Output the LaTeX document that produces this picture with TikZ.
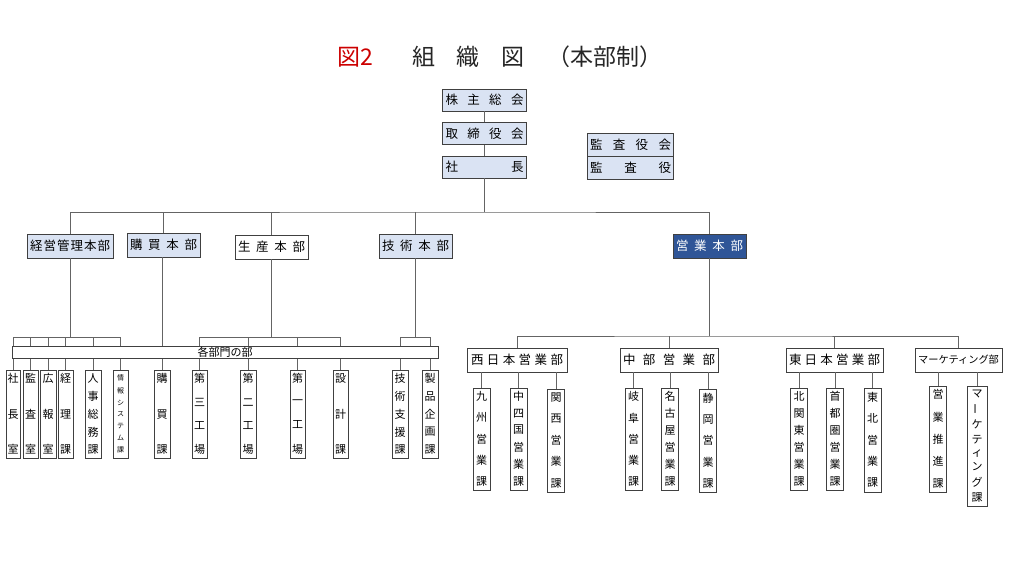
\documentclass[tikz,border=0pt]{standalone}
\usepackage{fontspec}
\usepackage{graphicx}
\setmainfont{Noto Sans CJK JP}
\usetikzlibrary{calc}
\definecolor{lblue}{RGB}{218,227,243}
\definecolor{dblue}{RGB}{47,85,151}
\definecolor{titlered}{RGB}{204,0,0}
\definecolor{boxline}{RGB}{64,64,64}
\definecolor{linegray}{RGB}{100,100,100}
\newcommand{\tate}[2]{\vbox to #1{\offinterlineskip\foreach \ch [count=\i] in {#2}{\ifnum\i>1 \vfill\fi\hbox to 1em{\hss\ch\hss}}}}
\newcommand{\yoko}[2]{\makebox[#1][s]{#2}}

\begin{document}
\begin{tikzpicture}[x=1pt,y=-1pt,
  box/.style={draw=boxline,line width=0.8pt,inner sep=0pt,font=\fontsize{12.5}{12.5}\selectfont},
  topbox/.style={box,fill=lblue,minimum width=84pt,minimum height=22pt},
  honbu/.style={box,fill=lblue,minimum height=24pt},
  tatebox/.style={box,line width=1pt,fill=white,minimum width=15pt,minimum height=88pt,font=\fontsize{11}{11}\selectfont},
  eigyobox/.style={box,fill=white,minimum height=24pt},
  link/.style={draw=linegray,line width=0.8pt}]
\useasboundingbox (0,0) rectangle (1024,576);
\def\tfont{\fontsize{23}{23}\selectfont}

\node[anchor=west,inner sep=0pt,font=\tfont,text=titlered] (zu) at (337,57) {図2};
\node[anchor=west,inner sep=0pt,font=\tfont,text=black!85] (soshiki) at (412,57) {\yoko{112pt}{組\hfill 織\hfill 図}};
\node[anchor=west,inner sep=0pt,font=\tfont,text=black!85] (honbusei) at (547,57) {（本部制）};

\node[topbox] (kabu) at (484.5,100) {\yoko{78pt}{株\hfill 主\hfill 総\hfill 会}};
\node[topbox] (tori) at (484.5,133.5) {\yoko{78pt}{取\hfill 締\hfill 役\hfill 会}};
\node[topbox] (shacho) at (484.5,167) {\yoko{78pt}{社\hfill 長}};
\node[topbox,minimum width=86pt,minimum height=23pt] (kansakai) at (630.5,144.5) {\yoko{81pt}{監\hfill 査\hfill 役\hfill 会}};
\node[topbox,minimum width=86pt,minimum height=23pt] (kansayaku) at (630.5,167.5) {\yoko{81pt}{監\hfill 査\hfill 役}};

\node[honbu,minimum width=86pt] (keiei) at (70,246) {\yoko{80pt}{経\hfill 営\hfill 管\hfill 理\hfill 本\hfill 部}};
\node[honbu,minimum width=73pt] (kobai) at (163.5,245) {\yoko{67pt}{購\hfill 買\hfill 本\hfill 部}};
\node[honbu,fill=white,minimum width=73pt] (seisan) at (271.5,247) {\yoko{67pt}{生\hfill 産\hfill 本\hfill 部}};
\node[honbu,minimum width=73pt] (gijutsu) at (415.5,246) {\yoko{67pt}{技\hfill 術\hfill 本\hfill 部}};
\node[honbu,fill=dblue,text=white,minimum width=73pt] (eigyo) at (709.5,246) {\yoko{67pt}{営\hfill 業\hfill 本\hfill 部}};

\coordinate (top) at (484.5,212);
\draw[link] (kabu) -- (tori);
\draw[link] (tori) -- (shacho);
\draw[link] (shacho) -- (top);
\draw[link] (keiei.north) |- (top) -| (eigyo.north);
\draw[link] (kobai.north) -- (kobai.north |- top);
\draw[link] (seisan.north) -- (seisan.north |- top);
\draw[link] (gijutsu.north) -- (gijutsu.north |- top);

\node[tatebox,minimum width=14pt] (shachoshitsu) at (13,414) {\tate{80pt}{社,長,室}};
\node[tatebox] (kansashitsu) at (30.5,414) {\tate{80pt}{監,査,室}};
\node[tatebox,minimum width=16pt] (kohoshitsu) at (48,414) {\tate{80pt}{広,報,室}};
\node[tatebox] (keirika) at (65.5,414) {\tate{80pt}{経,理,課}};
\node[tatebox,minimum width=16pt] (jinji) at (93,414) {\tate{80pt}{人,事,総,務,課}};
\node[tatebox,font=\fontsize{7}{7}\selectfont] (joho) at (120.5,414) {\tate{78pt}{情,報,シ,ス,テ,ム,課}};
\node[tatebox,minimum width=16pt] (kobaika) at (162,414) {\tate{80pt}{購,買,課}};
\node[tatebox] (dai3) at (199.5,414) {\tate{80pt}{第,三,工,場}};
\node[tatebox,minimum width=16pt] (dai2) at (248,414) {\tate{80pt}{第,二,工,場}};
\node[tatebox] (dai1) at (297.5,414) {\tate{80pt}{第,一,工,場}};
\node[tatebox] (sekkei) at (340.5,414) {\tate{80pt}{設,計,課}};
\node[tatebox,minimum width=16pt] (shien) at (400,414) {\tate{80pt}{技,術,支,援,課}};
\node[tatebox,minimum width=16pt] (seihin) at (430,414) {\tate{80pt}{製,品,企,画,課}};

\coordinate (kb) at (70,337);
\draw[link] (keiei) -- (kb);
\foreach \n in {shachoshitsu,kansashitsu,kohoshitsu,keirika,jinji,joho}
  \draw[link] (\n.north) |- (kb);
\draw[link] (kobaika.north) -- (kobaika.north |- kobai.south);
\coordinate (sb) at (271.5,337);
\draw[link] (seisan) -- (sb);
\foreach \n in {dai3,dai2,dai1,sekkei}
  \draw[link] (\n.north) |- (sb);
\coordinate (gb) at (415.5,337);
\draw[link] (gijutsu) -- (gb);
\foreach \n in {shien,seihin}
  \draw[link] (\n.north) |- (gb);
\node[box,fill=white,minimum width=426pt,minimum height=12pt,font=\fontsize{11}{11}\selectfont] (kakubumon) at (225,352) {各部門の部};

\node[eigyobox,minimum width=100pt] (nishi) at (517,360) {\yoko{92pt}{西\hfill 日\hfill 本\hfill 営\hfill 業\hfill 部}};
\node[eigyobox,minimum width=98pt] (chubu) at (669,360) {\yoko{92pt}{中\hfill 部\hfill 営\hfill 業\hfill 部}};
\node[eigyobox,minimum width=97pt] (higashi) at (834.5,360) {\yoko{91pt}{東\hfill 日\hfill 本\hfill 営\hfill 業\hfill 部}};
\node[eigyobox,minimum width=87pt,font=\fontsize{10.2}{10.2}\selectfont] (marketing) at (958.5,360) {マーケティング部};

\coordinate (eb) at (709.5,336);
\draw[link] (eigyo) -- (eb);
\draw[link] (nishi.north) |- (eb) -| (marketing.north);
\draw[link] (chubu.north) -- (chubu.north |- eb);
\draw[link] (higashi.north) -- (higashi.north |- eb);

\node[tatebox,minimum width=17pt,minimum height=102pt] (kyushu) at (481.5,439) {\tate{94pt}{九,州,営,業,課}};
\node[tatebox,minimum width=17pt,minimum height=102pt] (chushikoku) at (518.5,439) {\tate{94pt}{中,四,国,営,業,課}};
\node[tatebox,minimum width=17pt,minimum height=103pt] (kansai) at (556,440.5) {\tate{94pt}{関,西,営,業,課}};
\node[tatebox,minimum width=17pt,minimum height=102pt] (gifu) at (633.5,439) {\tate{94pt}{岐,阜,営,業,課}};
\node[tatebox,minimum width=17pt,minimum height=102pt] (nagoya) at (670,439) {\tate{94pt}{名,古,屋,営,業,課}};
\node[tatebox,minimum width=17pt,minimum height=103pt] (shizuoka) at (708,440.5) {\tate{94pt}{静,岡,営,業,課}};
\node[tatebox,minimum width=17pt,minimum height=102pt] (kitakanto) at (799,439) {\tate{94pt}{北,関,東,営,業,課}};
\node[tatebox,minimum width=17pt,minimum height=102pt] (shutoken) at (835,439) {\tate{94pt}{首,都,圏,営,業,課}};
\node[tatebox,minimum width=17pt,minimum height=104pt] (tohoku) at (872.5,440) {\tate{94pt}{東,北,営,業,課}};
\node[tatebox,minimum width=17pt,minimum height=106pt] (suishin) at (938,439) {\tate{98pt}{営,業,推,進,課}};
\node[tatebox,minimum width=20pt,minimum height=120pt] (mktka) at (977,446) {\tate{112pt}{マ,{\rotatebox[origin=c]{90}{ー}},ケ,テ,ィ,ン,グ,課}};

\foreach \n in {kyushu,chushikoku,kansai}
  \draw[link] (\n.north) -- (\n.north |- nishi.south);
\foreach \n in {gifu,nagoya,shizuoka}
  \draw[link] (\n.north) -- (\n.north |- chubu.south);
\foreach \n in {kitakanto,shutoken,tohoku}
  \draw[link] (\n.north) -- (\n.north |- higashi.south);
\foreach \n in {suishin,mktka}
  \draw[link] (\n.north) -- (\n.north |- marketing.south);
\end{tikzpicture}
\end{document}
